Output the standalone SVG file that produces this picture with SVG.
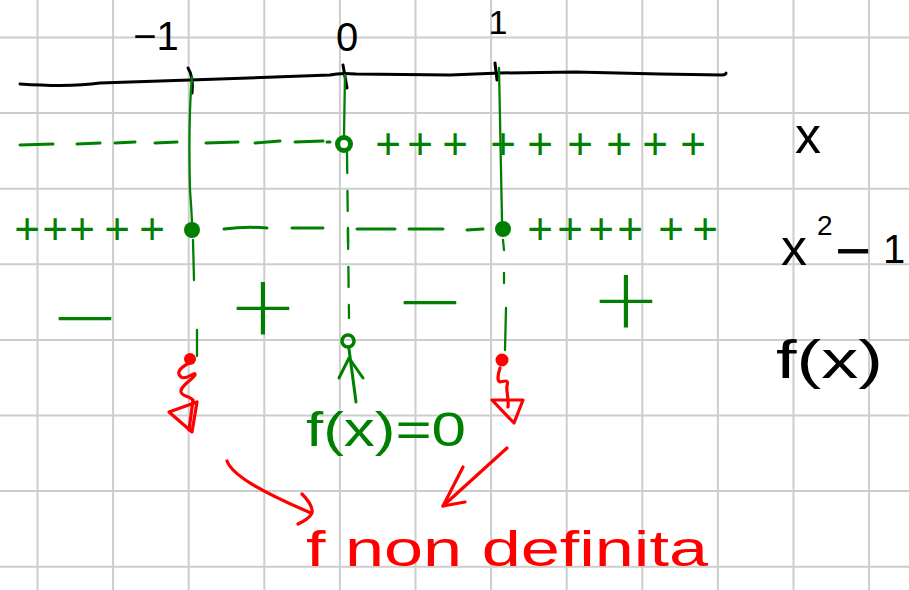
<svg xmlns="http://www.w3.org/2000/svg" width="909" height="590" viewBox="0 0 909 590">
  <style>
    .grid { stroke: #cdcdcd; stroke-width: 2; }
    .ink { fill: none; stroke-linecap: round; stroke-linejoin: round; }
    .blk { stroke: #000; stroke-width: 3; }
    .grn { stroke: #008000; stroke-width: 3; }
    .grn-thin { stroke: #008000; stroke-width: 2.3; }
    .red { stroke: #ff0000; stroke-width: 3.2; }
    .lbl { font-family: "Liberation Sans", Arial, sans-serif; }
    .plus { font-family: "Liberation Sans", Arial, sans-serif; font-size: 44px; fill: #008000; text-anchor: middle; }
    .big { font-family: "DejaVu Sans", "Liberation Sans", sans-serif; font-weight: 200; font-size: 84px; fill: #008000; text-anchor: middle; }
  </style>

  <rect width="909" height="590" fill="#fff"/>

  <!-- squared paper -->
  <g id="grid" class="grid">
    <line x1="37.5" y1="0" x2="37.5" y2="590"/>
    <line x1="113.1" y1="0" x2="113.1" y2="590"/>
    <line x1="188.7" y1="0" x2="188.7" y2="590"/>
    <line x1="264.3" y1="0" x2="264.3" y2="590"/>
    <line x1="339.9" y1="0" x2="339.9" y2="590"/>
    <line x1="415.5" y1="0" x2="415.5" y2="590"/>
    <line x1="491.1" y1="0" x2="491.1" y2="590"/>
    <line x1="566.7" y1="0" x2="566.7" y2="590"/>
    <line x1="642.3" y1="0" x2="642.3" y2="590"/>
    <line x1="717.9" y1="0" x2="717.9" y2="590"/>
    <line x1="793.5" y1="0" x2="793.5" y2="590"/>
    <line x1="869.1" y1="0" x2="869.1" y2="590"/>
    <line x1="0" y1="37.5" x2="909" y2="37.5"/>
    <line x1="0" y1="113.1" x2="909" y2="113.1"/>
    <line x1="0" y1="188.7" x2="909" y2="188.7"/>
    <line x1="0" y1="264.3" x2="909" y2="264.3"/>
    <line x1="0" y1="339.9" x2="909" y2="339.9"/>
    <line x1="0" y1="415.5" x2="909" y2="415.5"/>
    <line x1="0" y1="491.1" x2="909" y2="491.1"/>
    <line x1="0" y1="566.7" x2="909" y2="566.7"/>
  </g>

  <!-- real axis with the critical points -->
  <g id="axis">
    <path class="ink blk" d="M20,84 C50,86 80,86 100,83 L190,80 L330,75 C338,73 346,73 356,74 L450,75 L500,73 L575,72 L660,74 L722,75 C725,75 726,74 726,73"/>
    <path class="ink blk" d="M188,68 C192,74 193,84 192,93"/>
    <path class="ink blk" d="M343,65 L347,88"/>
    <path class="ink blk" d="M495,63 L497,80"/>
    <text class="lbl" x="156" y="50" font-size="40" text-anchor="middle">−1</text>
    <text class="lbl" x="347" y="51" font-size="40" text-anchor="middle">0</text>
    <text class="lbl" x="498" y="34" font-size="34" text-anchor="middle">1</text>
  </g>

  <!-- vertical guide lines -->
  <g id="connectors">
    <path class="ink grn-thin" d="M192,77 C189,110 189,150 190,190 C191,205 192,215 192,227"/>
    <path class="ink grn-thin" d="M193,240 L194,280"/>
    <path class="ink grn-thin" d="M197,330 L197,356"/>
    <path class="ink grn-thin" d="M345,75 L344,136"/>
    <path class="ink grn-thin" d="M347,153 L349,318" stroke-dasharray="20 18"/>
    <path class="ink grn-thin" d="M348,228 L348,243"/>
    <path class="ink grn-thin" d="M499,68 L502,221"/>
    <path class="ink grn-thin" d="M503,240 L504,250"/>
    <path class="ink grn-thin" d="M504,273 L504,283"/>
    <path class="ink grn-thin" d="M506,308 L505,350"/>
  </g>

  <!-- sign of x -->
  <g id="row-x">
    <g class="ink grn">
      <path d="M20,145 L53,144"/>
      <path d="M77,144 L100,143"/>
      <path d="M115,143 L135,142"/>
      <path d="M155,143 L177,142"/>
      <path d="M206,143 L238,142"/>
      <path d="M255,143 L280,141"/>
      <path d="M295,142 L323,141"/>
      <path d="M327,142 L330,142"/>
    </g>
    <circle cx="344" cy="144" r="6.5" fill="none" stroke="#008000" stroke-width="5"/>
    <text class="plus" x="388" y="159">+</text>
    <text class="plus" x="420" y="159">+</text>
    <text class="plus" x="455" y="159">+</text>
    <text class="plus" x="503" y="159">+</text>
    <text class="plus" x="540" y="159">+</text>
    <text class="plus" x="580" y="159">+</text>
    <text class="plus" x="619" y="159">+</text>
    <text class="plus" x="655" y="159">+</text>
    <text class="plus" x="693" y="159">+</text>
  </g>

  <!-- sign of x^2 - 1 -->
  <g id="row-x2-1">
    <text class="plus" x="27" y="244">+</text>
    <text class="plus" x="55" y="244">+</text>
    <text class="plus" x="82" y="244">+</text>
    <text class="plus" x="117" y="244">+</text>
    <text class="plus" x="152" y="244">+</text>
    <circle cx="192" cy="230" r="8" fill="#008000"/>
    <g class="ink grn">
      <path d="M224,229 C240,227 255,227 267,228"/>
      <path d="M292,228 L323,228"/>
      <path d="M357,229 L395,229"/>
      <path d="M409,229 L443,229"/>
      <path d="M467,230 L483,229"/>
    </g>
    <circle cx="503" cy="229" r="8" fill="#008000"/>
    <text class="plus" x="540" y="244">+</text>
    <text class="plus" x="570" y="244">+</text>
    <text class="plus" x="601" y="244">+</text>
    <text class="plus" x="630" y="244">+</text>
    <text class="plus" x="671" y="244">+</text>
    <text class="plus" x="705" y="244">+</text>
  </g>

  <!-- sign of f(x) -->
  <g id="row-f">
    <text class="big" x="85" y="345">−</text>
    <text class="big" x="263" y="335">+</text>
    <text class="big" x="430" y="329">−</text>
    <text class="big" x="626" y="328">+</text>
  </g>

  <!-- row labels -->
  <g id="labels" class="lbl">
    <text x="795" y="153" font-size="52">x</text>
    <text font-size="52"><tspan x="781" y="265">x</tspan><tspan x="817" y="235" font-size="28">2</tspan><tspan x="835" y="272" font-size="62">−</tspan><tspan x="883" y="263" font-size="40">1</tspan></text>
    <text x="776" y="378" font-size="54" textLength="107" lengthAdjust="spacingAndGlyphs">f(x)</text>
  </g>

  <!-- f(x)=0 at x=0 -->
  <g id="zero-mark">
    <circle cx="348" cy="341" r="6" fill="none" stroke="#008000" stroke-width="3.5"/>
    <path class="ink grn" d="M349,349 L356,402"/>
    <path class="ink grn" d="M339,378 L349,358 L363,378"/>
    <text class="lbl" x="306" y="446" font-size="48" fill="#008000" textLength="160" lengthAdjust="spacingAndGlyphs">f(x)=0</text>
  </g>

  <!-- excluded points -->
  <g id="undefined-left">
    <circle cx="190" cy="359" r="6" fill="#ff0000"/>
    <path class="ink red" d="M192,362 C182,366 175,372 181,377 C186,381 196,370 195,375 C192,380 180,386 181,392 C182,397 192,396 193,401"/>
    <path class="ink red" d="M169,412 L197,402 L192,432 Z"/>
    <path class="ink red" d="M193,400 L189,430"/>
  </g>
  <g id="undefined-right">
    <circle cx="502" cy="360" r="6.5" fill="#ff0000"/>
    <path class="ink red" d="M500,368 C498,374 497,381 500,382 C505,381 509,379 507,386 C506,392 509,398 508,407"/>
    <path class="ink red" d="M492,400 L523,400 L514,423 Z"/>
  </g>

  <!-- note -->
  <g id="note">
    <path class="ink red" d="M227,461 C232,474 255,489 311,513"/>
    <path class="ink red" d="M302,494 C308,500 313,507 312,513 C310,518 304,521 298,524"/>
    <path class="ink red" d="M507,448 L443,506"/>
    <path class="ink red" d="M463,467 L443,506 L465,502"/>
    <text class="lbl" x="306" y="566" font-size="50" fill="#ff0000" textLength="402" lengthAdjust="spacingAndGlyphs">f non definita</text>
  </g>
</svg>
